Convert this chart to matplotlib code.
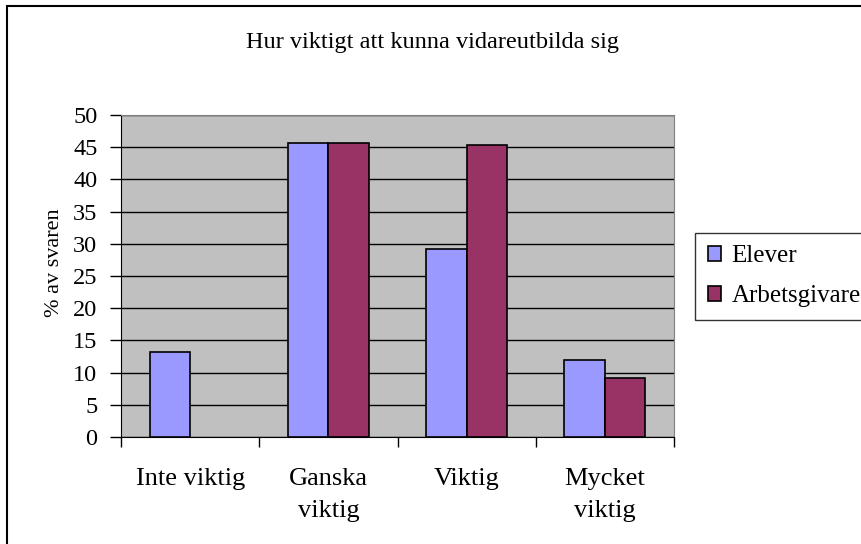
import numpy as np
import matplotlib.pyplot as plt
from matplotlib.patches import Rectangle

categories = ['Inte viktig', 'Ganska\nviktig', 'Viktig', 'Mycket\nviktig']
elever = [13.2, 45.6, 29.2, 12.0]
arbetsgivare = [0, 45.6, 45.3, 9.1]
yticks = [0, 5, 10, 15, 20, 25, 30, 35, 40, 45, 50]

plt.rcParams['font.family'] = 'Liberation Serif'

fig = plt.figure(figsize=(8.61, 5.44), dpi=100)
ax = fig.add_axes([121/861, 1 - 437/544, 553/861, 322/544])
ax.set_facecolor('#C0C0C0')

x = np.arange(len(categories))
w = 0.293
# empty categories get no bar at all
arb = np.array(arbetsgivare, dtype=float)
arb[arb == 0] = np.nan
ax.bar(x - w/2, elever, w, color='#9999FF', edgecolor='black', linewidth=1.2,
       label='Elever', zorder=3)
ax.bar(x + w/2, arb, w, color='#993366', edgecolor='black', linewidth=1.2,
       label='Arbetsgivare', zorder=3)

ax.set_xlim(-0.5, 3.5)
ax.set_ylim(0, 50)
ax.set_yticks(yticks)
ax.tick_params(axis='y', labelsize=17.5, length=8, width=1, pad=9, direction='out')
ax.yaxis.grid(True, color='black', linewidth=1, zorder=1)
ax.set_axisbelow(True)

ax.set_xticks(x)
ax.set_xticklabels(categories, fontsize=19, linespacing=1.6)
ax.tick_params(axis='x', which='major', length=0, pad=22)
ax.set_xticks(np.arange(-0.5, 4, 1), minor=True)
ax.tick_params(axis='x', which='minor', length=7, width=1, direction='out')

ax.spines['left'].set_color('black')
ax.spines['bottom'].set_color('black')
ax.spines['top'].set_color('#808080')
ax.spines['right'].set_color('#808080')

ax.set_ylabel('% av svaren', fontsize=16)
ax.yaxis.set_label_coords(-0.103, 0.54)

fig.text(432/861, 1 - 48/544, 'Hur viktigt att kunna vidareutbilda sig',
         ha='center', va='baseline', fontsize=17.5)

leg = fig.legend(loc='upper left', bbox_to_anchor=(695/861, 1 - 233/544),
                 fontsize=18, frameon=True, fancybox=False, handlelength=0.55,
                 handleheight=0.55, handletextpad=0.4, borderpad=0.5,
                 labelspacing=0.72, borderaxespad=0)
leg.get_frame().set_edgecolor('black')
leg.get_frame().set_linewidth(1)

fig.patches.append(Rectangle((7/861, -0.1), 1.2, 1 - 6/544 + 0.1,
                             transform=fig.transFigure, fill=False,
                             edgecolor='black', linewidth=1.5))

plt.savefig('out.png', dpi=100)
